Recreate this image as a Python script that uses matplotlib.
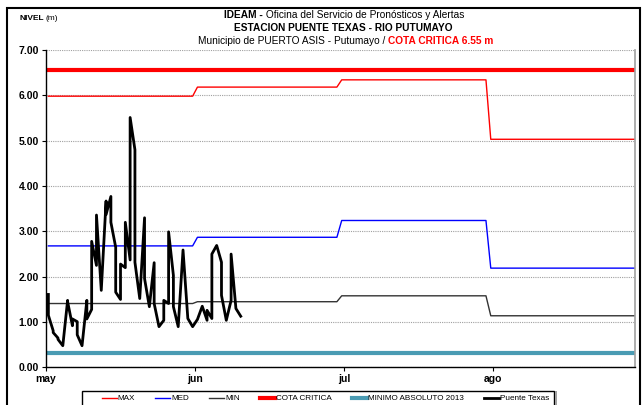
#!/usr/bin/env python3
# -*- coding: utf-8 -*-
"""
Nivel del rio Putumayo - Estacion Puente Texas (may - ago)
"""

import numpy as np
import matplotlib
matplotlib.use('Agg')
import matplotlib.pyplot as plt
from matplotlib.patches import Rectangle

# dias de cada mes en el eje
meses = ['may', 'jun', 'jul', 'ago']
dias_mes = [31, 30, 31, 31]
ticks_mes = [-0.5, 30.5, 61.5, 92.5]

# niveles mensuales de referencia (m)
nivel_max = [5.98, 6.18, 6.34, 5.03]
nivel_med = [2.68, 2.87, 3.24, 2.19]
nivel_min = [1.41, 1.45, 1.58, 1.14]
cota_critica = 6.55
minimo_absoluto = 0.32

# lecturas diarias Puente Texas desde el 1 de mayo (manana / tarde)
lectura_am = [1.61, 0.81, 0.65, 0.48, 1.48, 0.92, 1.01, 0.48, 1.48, 1.28,
              2.25, 1.70, 3.67, 3.77, 2.65, 1.50, 2.20, 2.37, 4.80, 1.52,
              3.30, 1.34, 2.31, 0.90, 1.04, 1.41, 2.03, 0.90, 2.59, 1.08,
              0.90, 1.06, 1.35, 1.04, 1.08, 2.69, 2.32, 1.04, 1.48, 1.30,
              1.13]
lectura_pm = [1.15, 0.77, 0.62, 0.48, 1.45, 1.07, 0.72, 0.48, 1.07, 2.78,
              3.36, 1.70, 3.37, 3.20, 1.66, 2.28, 3.20, 5.51, 2.32, 1.52,
              1.96, 1.34, 1.41, 0.90, 1.48, 2.99, 1.34, 0.90, 2.59, 1.08,
              0.90, 1.06, 1.35, 1.26, 2.50, 2.69, 1.59, 1.04, 2.50, 1.30,
              1.13]

FUENTE = ['Liberation Sans', 'DejaVu Sans']
W, H = 643, 405


def serie_diaria(valores):
    """Expande un valor mensual a todos los dias del mes."""
    return np.repeat(valores, dias_mes)


def px(x, y):
    """Pixel (desde arriba a la izquierda) a coordenadas de figura."""
    return x / W, 1 - y / H


def main():
    plt.rcParams['font.family'] = FUENTE
    fig = plt.figure(figsize=(W / 100, H / 100), dpi=100)
    ax = fig.add_axes([0.0715, 0.0926, 0.9161, 0.7842])

    dias = np.arange(sum(dias_mes))
    ax.plot(dias, serie_diaria(nivel_max), color='#ff0000', lw=1.0,
            label='MAX')
    ax.plot(dias, serie_diaria(nivel_med), color='#0000ff', lw=1.0,
            label='MED')
    ax.plot(dias, serie_diaria(nivel_min), color='#333333', lw=1.0,
            label='MIN')
    ax.axhline(cota_critica, color='#ff0000', lw=3.0, label='COTA CRITICA')
    ax.axhline(minimo_absoluto, color='#4a9bb3', lw=3.0,
               label='MINIMO ABSOLUTO 2013')

    # dos lecturas por dia sobre la misma fecha
    x_lect = np.repeat(np.arange(len(lectura_am)), 2)
    y_lect = np.column_stack([lectura_am, lectura_pm]).ravel()
    ax.plot(x_lect, y_lect, color='black', lw=2.0, label='Puente Texas')

    ax.set_xlim(-0.5, 122)
    ax.set_ylim(0, 7)
    ax.set_yticks(np.arange(0, 8, 1))
    ax.set_yticklabels([f'{v:.2f}' for v in range(8)], fontweight='bold',
                       fontsize=7.5)
    ax.set_xticks(ticks_mes)
    ax.set_xticklabels(meses, fontweight='bold', fontsize=7.5)
    ax.tick_params(direction='out', length=3, width=0.8, pad=2)
    ax.grid(axis='y', color='#a0a0a0', linestyle=(0, (1, 1)), lw=0.8)
    ax.set_axisbelow(True)

    ax.spines['top'].set_visible(False)
    ax.spines['right'].set_color('#a0a0a0')
    ax.spines['right'].set_linewidth(1.2)
    ax.spines['left'].set_linewidth(1.0)
    ax.spines['bottom'].set_linewidth(1.0)

    # marco exterior
    fig.patches.append(Rectangle((7 / W, -0.01), 633 / W, 1 - 8 / H + 0.01,
                                 transform=fig.transFigure, fill=False,
                                 edgecolor='black', lw=1.5))

    # titulos
    fig.text(*px(20, 18), 'NIVEL', fontweight='bold', fontsize=6,
             va='center')
    fig.text(*px(46, 18), '(m)', fontsize=6, va='center')
    fig.text(*px(263, 15), 'IDEAM -', fontweight='bold', fontsize=7.3,
             ha='right', va='center')
    fig.text(*px(263, 15), ' Oficina del Servicio de Pronósticos y Alertas',
             fontsize=7.3, ha='left', va='center')
    fig.text(*px(343, 28), 'ESTACION PUENTE TEXAS - RIO PUTUMAYO',
             fontweight='bold', fontsize=7.3, ha='center', va='center')
    fig.text(*px(388, 41), 'Municipio de PUERTO ASIS - Putumayo / ',
             fontsize=7.3, ha='right', va='center')
    fig.text(*px(388, 41), 'COTA CRITICA 6.55 m', color='#ff0000',
             fontweight='bold', fontsize=7.3, ha='left', va='center')

    # leyenda inferior con su propio marco
    x0, y0 = px(82, 391)
    x1, _ = px(554, 391)
    fig.patches.append(Rectangle((x0, -0.02), x1 - x0, y0 + 0.02,
                                 transform=fig.transFigure, fill=False,
                                 edgecolor='black', lw=1.0))
    fig.patches.append(Rectangle((x1 + 1.5 / W, -0.02), 0, y0 + 0.02,
                                 transform=fig.transFigure, fill=False,
                                 edgecolor='#a0a0a0', lw=1.2))
    fig.legend(loc='upper left', bbox_to_anchor=px(98, 391),
               ncol=6, frameon=False, handlelength=1.85,
               handletextpad=0.12, columnspacing=2.45, borderpad=0.45,
               borderaxespad=0, prop={'size': 5.9})

    fig.savefig('out.png', dpi=100)


if __name__ == "__main__":
    main()
